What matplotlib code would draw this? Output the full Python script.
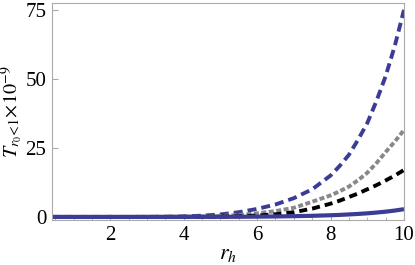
import matplotlib
matplotlib.use('Agg')
import matplotlib.pyplot as plt
from matplotlib.ticker import MultipleLocator

# values (units of 1e-9)
r_h = [0.4, 1, 1.5, 2, 2.5, 3, 3.5, 4, 4.5, 5, 5.5, 6, 6.5, 7, 7.5, 8, 8.25, 8.5, 8.75, 9, 9.25, 9.5, 9.75, 10]
blue_dashed = [0, 0, 0, 0, 0.01, 0.03, 0.08, 0.2, 0.45, 0.9, 1.7, 2.9, 4.5, 6.8, 10, 15, 18.5, 22.5, 28, 34, 42, 51, 62, 75]
gray_dotted = [0, 0, 0, 0, 0, 0.01, 0.03, 0.07, 0.15, 0.35, 0.7, 1.3, 2.1, 3.3, 5.5, 7.8, 9.3, 11, 13.3, 16, 19.5, 23.5, 27.3, 31.5]
black_dashed = [0, 0, 0, 0, 0, 0, 0.01, 0.02, 0.05, 0.12, 0.25, 0.5, 0.95, 1.7, 3.0, 4.8, 5.9, 7.2, 8.5, 10, 11.5, 13.2, 15, 17]
blue_solid = [0, 0, 0, 0, 0, 0, 0, 0.01, 0.02, 0.03, 0.05, 0.1, 0.17, 0.27, 0.4, 0.6, 0.73, 0.9, 1.08, 1.3, 1.58, 1.9, 2.3, 2.8]

plt.rcParams['font.family'] = 'Liberation Serif'
plt.rcParams['mathtext.fontset'] = 'stix'
plt.rcParams['lines.scale_dashes'] = False

blue = '#3c3c96'
frame = '#aaaaaa'

fig = plt.figure(figsize=(4.15, 2.65), dpi=100)
ax = fig.add_axes([0.125, 0.17, 0.8485, 0.8187])

ax.plot(r_h, blue_dashed, color=blue, lw=2.8, dashes=(6.5, 3.6))
ax.plot(r_h, gray_dotted, color='#888888', lw=2.8, dashes=(3.6, 1.8))
ax.plot(r_h, black_dashed, color='black', lw=2.8, dashes=(5.8, 3.6))
ax.plot(r_h, blue_solid, color=blue, lw=3.0, solid_capstyle='butt')

ax.set_xlim(0.41, 10)
ax.set_ylim(-1.1, 77.5)
ax.set_xticks([2, 4, 6, 8, 10])
ax.set_yticks([0, 25, 50, 75])
ax.xaxis.set_minor_locator(MultipleLocator(0.5))

for s in ax.spines.values():
    s.set_color(frame)
    s.set_linewidth(0.8)

ax.tick_params(which='major', direction='in', length=4, color=frame, labelsize=15, pad=4)
ax.tick_params(which='minor', direction='in', length=2, color=frame)

ax.set_xlabel(r'$r_h$', fontsize=16, labelpad=0)
ax.set_ylabel(r'$T_{r_0\!<\!1}\!\times\!10^{-9}$', fontsize=14.5, labelpad=0)

plt.savefig('out.png', dpi=100)
